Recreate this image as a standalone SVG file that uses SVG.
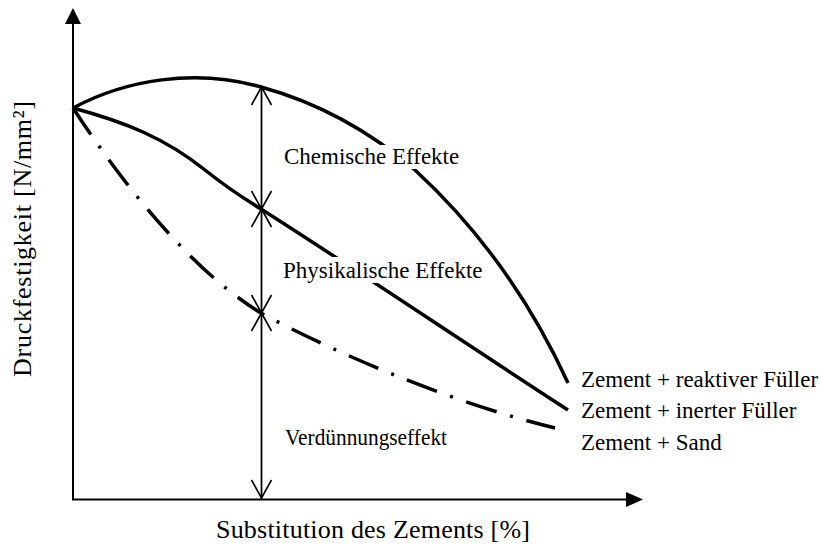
<svg xmlns="http://www.w3.org/2000/svg" width="820" height="548" viewBox="0 0 820 548">
  <style>
    text { font-family: "Liberation Serif", "Times New Roman", Times, serif; fill: #000; }
    .lbl { font-size: 23px; }
    .ax { font-size: 26px; }
    .curve { fill: none; stroke: #000; stroke-width: 3.5; }
    .axis { fill: none; stroke: #000; stroke-width: 2; }
    .dim { fill: none; stroke: #000; stroke-width: 1.8; }
    .bg { fill: #fff; stroke: none; }
  </style>
  <defs>
    <marker id="open" viewBox="-20 -12 22 24" markerWidth="22" markerHeight="24" refX="0" refY="0" orient="auto-start-reverse" markerUnits="userSpaceOnUse">
      <path d="M-18,-10 L0,0 L-18,10" fill="none" stroke="#000" stroke-width="1.6"/>
    </marker>
  </defs>

  <g id="axes">
    <line class="axis" x1="73" y1="499.5" x2="73" y2="22"/>
    <polygon points="73,8 65,24 81,24" fill="#000"/>
    <line class="axis" x1="72" y1="499.5" x2="628" y2="499.5"/>
    <polygon points="643,499.5 626,492 626,507" fill="#000"/>
  </g>

  <g id="connectors">
    <path id="reaktiv" class="curve" d="M73,108 C125,80 195,68 261,87 C330,106 380,140 415,170 C480,230 530,300 568,383"/>
    <path id="inert" class="curve" d="M73,108 C125,122 165,138 205,170 C225,186 243,198 261,209 C360,272 460,340 568,410"/>
    <path id="sand" class="curve" stroke-dasharray="32 14 3 14" d="M73,108 C120,180 190,270 261,313 C320,345 440,400 555,428"/>
    <line class="dim" x1="261.5" y1="87" x2="261.5" y2="209" marker-start="url(#open)" marker-end="url(#open)"/>
    <line class="dim" x1="261.5" y1="209" x2="261.5" y2="313" marker-start="url(#open)" marker-end="url(#open)"/>
    <line class="dim" x1="261.5" y1="313" x2="261.5" y2="498" marker-start="url(#open)" marker-end="url(#open)"/>
  </g>

  <g id="label-chemisch">
    <rect class="bg" x="280" y="145" width="182" height="24"/>
    <text class="lbl" x="284" y="164">Chemische Effekte</text>
  </g>
  <g id="label-physikalisch">
    <rect class="bg" x="279" y="257" width="205" height="26"/>
    <text class="lbl" x="283" y="278">Physikalische Effekte</text>
  </g>
  <g id="label-verduennung">
    <text class="lbl" x="285" y="445" textLength="162" lengthAdjust="spacingAndGlyphs">Verdünnungseffekt</text>
  </g>

  <g id="legend-reaktiv">
    <text class="lbl" x="581" y="387">Zement + reaktiver Füller</text>
  </g>
  <g id="legend-inert">
    <text class="lbl" x="581" y="418">Zement + inerter Füller</text>
  </g>
  <g id="legend-sand">
    <text class="lbl" x="581" y="450">Zement + Sand</text>
  </g>

  <g id="y-label">
    <text class="ax" transform="translate(31,239) rotate(-90)" text-anchor="middle" textLength="276">Druckfestigkeit  [N/mm²]</text>
  </g>
  <g id="x-label">
    <text class="ax" x="216" y="538" textLength="314">Substitution des Zements [%]</text>
  </g>
</svg>
